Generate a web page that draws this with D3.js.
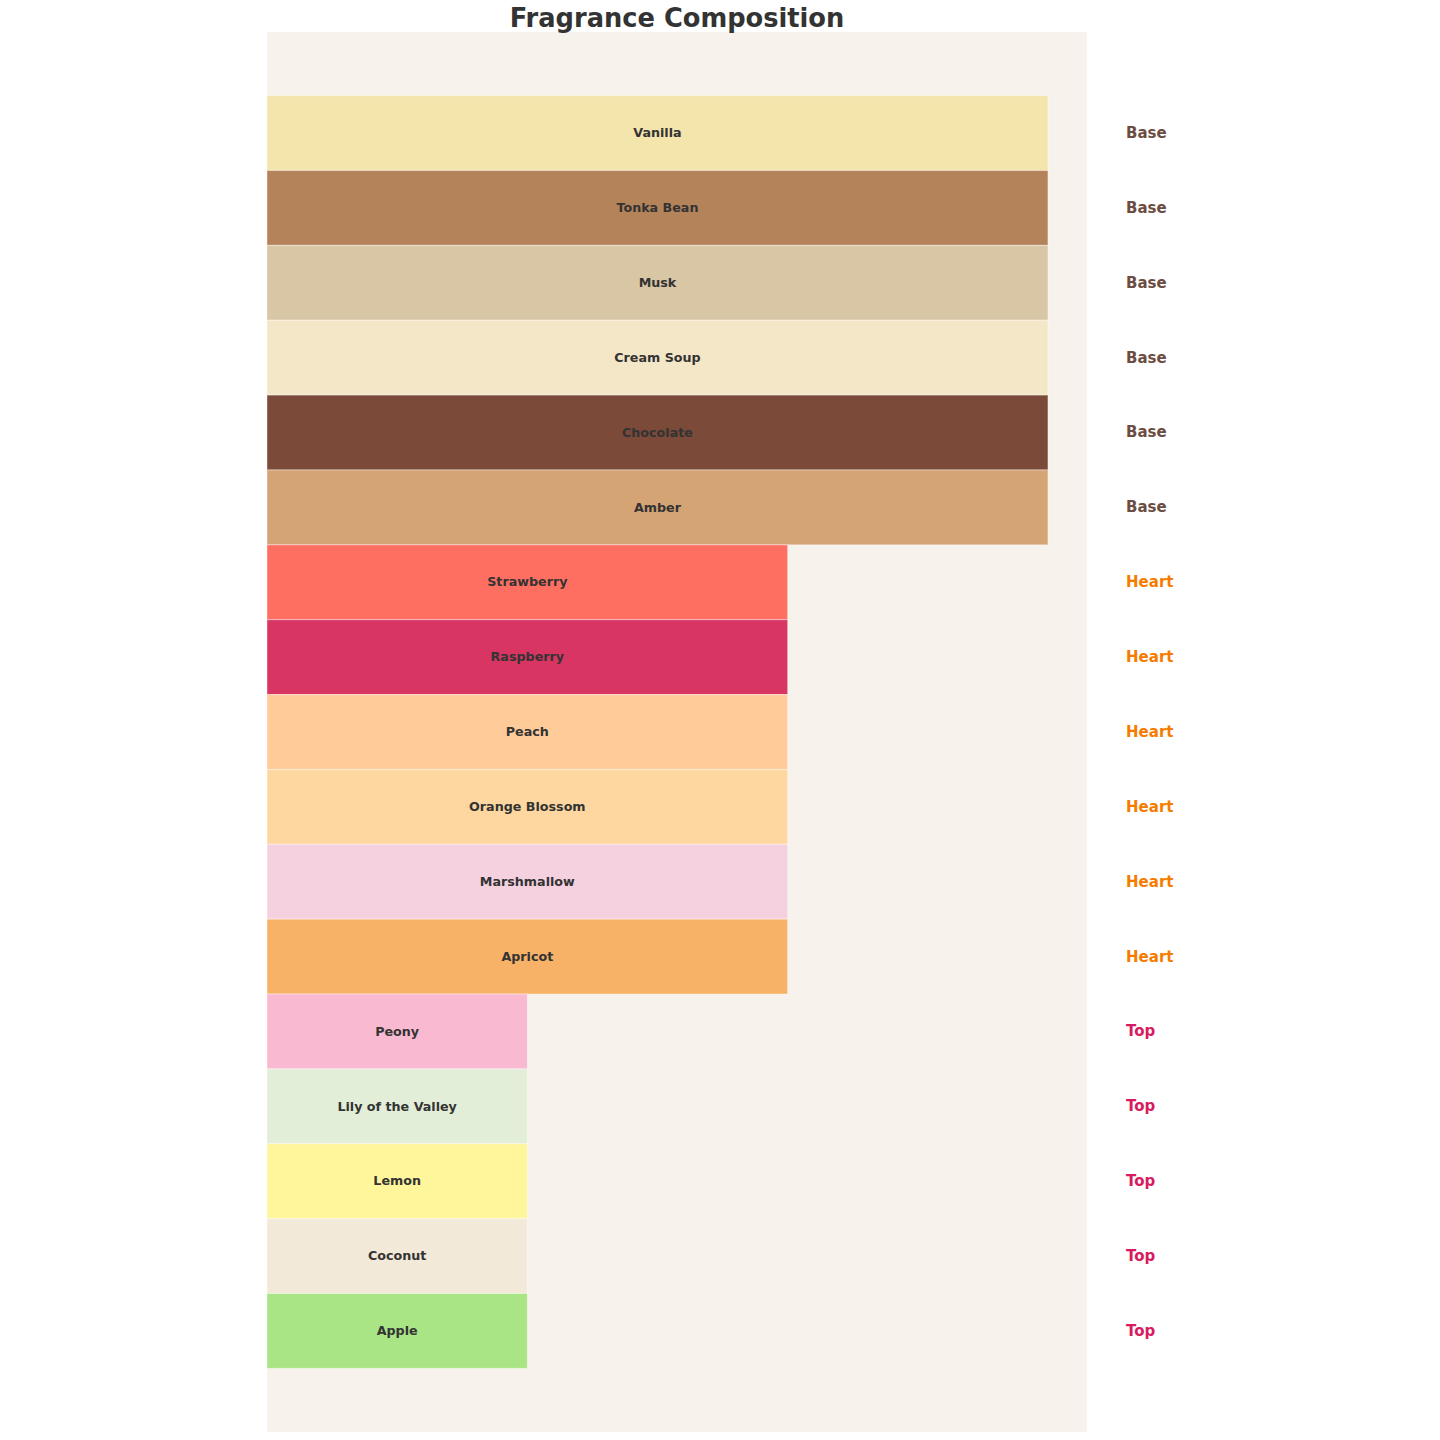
<!DOCTYPE html>
<html>
<head>
<meta charset="utf-8">
<script src="https://cdn.jsdelivr.net/npm/d3@7"></script>
<style>
  body { margin: 0; background: #fff; }
  text { font-family: "DejaVu Sans", sans-serif; }
</style>
</head>
<body>
<div id="chart"></div>
<script>
// notes, top row first
var notes = ["Vanilla", "Tonka Bean", "Musk", "Cream Soup", "Chocolate", "Amber",
             "Strawberry", "Raspberry", "Peach", "Orange Blossom", "Marshmallow", "Apricot",
             "Peony", "Lily of the Valley", "Lemon", "Coconut", "Apple"];
var levels = ["Base", "Base", "Base", "Base", "Base", "Base",
              "Heart", "Heart", "Heart", "Heart", "Heart", "Heart",
              "Top", "Top", "Top", "Top", "Top"];
var levelValue = {Base: 3, Heart: 2, Top: 1};
var noteColors = ["#F3E5AB", "#B5835A", "#D8C6A4", "#F4E7C7", "#7B4A38", "#D4A475",
                  "#FF6F61", "#D83563", "#FFCB99", "#FDD79F", "#F5D1E0", "#F7B267",
                  "#F8B9D1", "#E3EED8", "#FFF59A", "#F2E9D8", "#A9E585"];
var levelColors = {Base: "#6D4C41", Heart: "#F57C00", Top: "#D81B60"};

var W = 1440, H = 1440;
var margin = {top: 32, right: 353, bottom: 8, left: 267};

var data = notes.map(function(n, i) {
  return {note: n, level: levels[i], value: levelValue[levels[i]], color: noteColors[i]};
});

var x = d3.scaleLinear().domain([0, 3.15]).range([margin.left, W - margin.right]);
var y = d3.scaleBand().domain(notes).range([margin.top, H - margin.bottom])
          .paddingInner(0).paddingOuter(0.85);

var svg = d3.select("#chart").append("svg").attr("width", W).attr("height", H);

// plot background
svg.append("rect").attr("x", margin.left).attr("y", margin.top)
  .attr("width", W - margin.left - margin.right).attr("height", H - margin.top - margin.bottom)
  .style("fill", "#F7F2EC");

// bars
svg.selectAll(".bar").data(data).enter().append("rect").attr("class", "bar")
  .attr("x", x(0)).attr("y", function(d) { return y(d.note); })
  .attr("width", function(d) { return x(d.value) - x(0); })
  .attr("height", y.bandwidth())
  .style("fill", function(d) { return d.color; })
  .style("stroke", "#fff").style("stroke-opacity", 0.4).style("stroke-width", 1);

// note labels
svg.selectAll(".lbl").data(data).enter().append("text").attr("class", "lbl")
  .attr("x", function(d) { return x(d.value / 2); })
  .attr("y", function(d) { return y(d.note) + y.bandwidth() / 2; })
  .attr("dy", "0.33em").attr("text-anchor", "middle")
  .style("font-size", "12.7px").style("font-weight", "bold").style("fill", "#333")
  .text(function(d) { return d.note; });

// level labels
svg.selectAll(".lvl").data(data).enter().append("text").attr("class", "lvl")
  .attr("x", x(3.3))
  .attr("y", function(d) { return y(d.note) + y.bandwidth() / 2; })
  .attr("dy", "0.33em")
  .style("font-size", "15px").style("font-weight", "bold")
  .style("fill", function(d) { return levelColors[d.level]; })
  .text(function(d) { return d.level; });

// title
svg.append("text").attr("x", (x(0) + x(3.15)) / 2).attr("y", 27)
  .attr("text-anchor", "middle")
  .style("font-size", "25.7px").style("font-weight", "bold").style("fill", "#333")
  .text("Fragrance Composition");
</script>
</body>
</html>
